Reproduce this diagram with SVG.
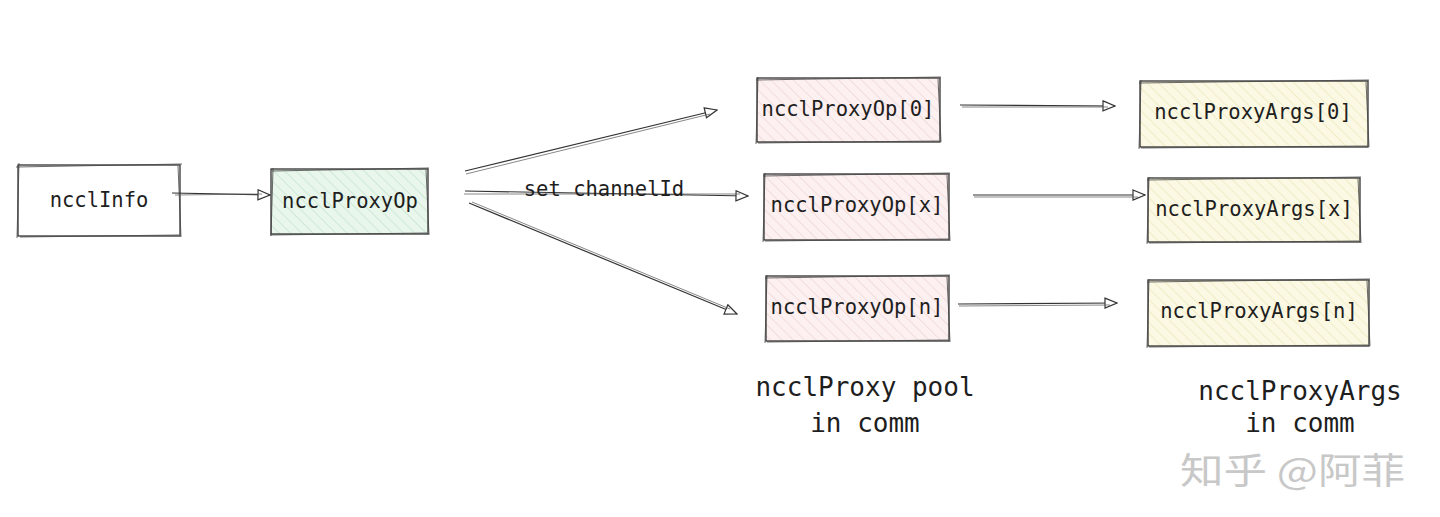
<svg xmlns="http://www.w3.org/2000/svg" width="1440" height="517" viewBox="0 0 1440 517">
<style>
.box{stroke:#333;stroke-width:1.3;}
.sk{fill:none;stroke:#444;stroke-width:0.8;}
.t{font-family:"DejaVu Sans Mono","Liberation Mono",monospace;font-size:20.5px;fill:#1e1e1e;text-anchor:middle;dominant-baseline:central;}
.lbl{font-family:"DejaVu Sans Mono","Liberation Mono",monospace;font-size:26px;fill:#1e1e1e;text-anchor:middle;}
.c{fill:none;stroke:#333;stroke-width:1.2;marker-end:url(#ah);}
.c2{fill:none;stroke:#555;stroke-width:0.7;}
.wm{font-family:"Noto Sans CJK SC",sans-serif;font-size:36px;fill:#c8c8c8;}
</style>
<defs>
<marker id="ah" viewBox="0 0 14 12" refX="13" refY="6" markerWidth="14" markerHeight="12" markerUnits="userSpaceOnUse" orient="auto">
<path d="M1,1 L13,6 L1,11 Z" fill="#fff" stroke="#333" stroke-width="1.2"/>
</marker>
<pattern id="hg" width="8" height="8" patternUnits="userSpaceOnUse" patternTransform="rotate(-45)">
<rect width="8" height="8" fill="#e8f6ec"/><line x1="0" y1="0" x2="0" y2="8" stroke="#cfe9d6" stroke-width="2"/>
</pattern>
<pattern id="hp" width="8" height="8" patternUnits="userSpaceOnUse" patternTransform="rotate(-45)">
<rect width="8" height="8" fill="#fcf0f0"/><line x1="0" y1="0" x2="0" y2="8" stroke="#f3dcdc" stroke-width="2"/>
</pattern>
<pattern id="hy" width="8" height="8" patternUnits="userSpaceOnUse" patternTransform="rotate(-45)">
<rect width="8" height="8" fill="#fbf8e3"/><line x1="0" y1="0" x2="0" y2="8" stroke="#f1ecc8" stroke-width="2"/>
</pattern>
</defs>
<rect width="1440" height="517" fill="#fff"/>

<g id="ncclInfo">
<rect class="box" x="18" y="165" width="162" height="71" fill="#fff"/>
<path class="sk" d="M16,167 L182,164 M20,237 L179,235 M19,163 L17,238 M178,166 L181,237"/>
<text class="t" x="99" y="200">ncclInfo</text>
</g>

<g id="ncclProxyOp">
<rect class="box" x="271" y="169" width="157" height="65" fill="url(#hg)"/>
<path class="sk" d="M272,171 L429,168 M270,235 L427,233 M273,168 L271,236 M426,170 L429,235"/>
<text class="t" x="350" y="201">ncclProxyOp</text>
</g>

<g id="ncclProxyOp0">
<rect class="box" x="757" y="78" width="183" height="64" fill="url(#hp)"/>
<path class="sk" d="M756,80 L941,77 M758,143 L939,141 M758,77 L756,144 M938,79 L941,142"/>
<text class="t" x="848" y="109">ncclProxyOp[0]</text>
</g>

<g id="ncclProxyOpX">
<rect class="box" x="764" y="174" width="185" height="66" fill="url(#hp)"/>
<path class="sk" d="M763,176 L950,173 M765,241 L948,239 M765,173 L763,242 M947,175 L950,241"/>
<text class="t" x="857" y="205">ncclProxyOp[x]</text>
</g>

<g id="ncclProxyOpN">
<rect class="box" x="766" y="276" width="183" height="65" fill="url(#hp)"/>
<path class="sk" d="M765,278 L950,275 M767,342 L948,340 M767,275 L765,343 M947,277 L950,342"/>
<text class="t" x="857" y="307">ncclProxyOp[n]</text>
</g>

<g id="ncclProxyArgs0">
<rect class="box" x="1140" y="81" width="228" height="66" fill="url(#hy)"/>
<path class="sk" d="M1139,83 L1369,80 M1141,148 L1367,146 M1141,80 L1139,149 M1366,82 L1369,147"/>
<text class="t" x="1253" y="112">ncclProxyArgs[0]</text>
</g>

<g id="ncclProxyArgsX">
<rect class="box" x="1148" y="178" width="212" height="64" fill="url(#hy)"/>
<path class="sk" d="M1147,180 L1361,177 M1149,243 L1359,241 M1149,177 L1147,244 M1358,179 L1361,243"/>
<text class="t" x="1254" y="209">ncclProxyArgs[x]</text>
</g>

<g id="ncclProxyArgsN">
<rect class="box" x="1148" y="280" width="221" height="66" fill="url(#hy)"/>
<path class="sk" d="M1147,282 L1370,279 M1149,347 L1368,345 M1149,279 L1147,348 M1367,281 L1370,346"/>
<text class="t" x="1259" y="311">ncclProxyArgs[n]</text>
</g>

<g id="connectors">
<path class="c" d="M172,193 L270,195"/>
<path class="c2" d="M175,195 L262,194"/>
<path class="c" d="M465,171 L717,110"/>
<path class="c2" d="M466,174 L710,114"/>
<path class="c" d="M465,191 L748,196"/>
<path class="c2" d="M464,194 L740,194"/>
<path class="c" d="M469,203 L737,314"/>
<path class="c2" d="M472,202 L730,309"/>
<path class="c" d="M960,105 L1115,106"/>
<path class="c2" d="M962,107 L1108,107"/>
<path class="c" d="M973,195 L1145,195"/>
<path class="c2" d="M974,197 L1138,197"/>
<path class="c" d="M958,304 L1117,303"/>
<path class="c2" d="M959,306 L1110,305"/>
<text class="t" x="604" y="189">set channelId</text>
</g>

<g id="labels">
<text class="lbl" x="865" y="396">ncclProxy pool</text>
<text class="lbl" x="865" y="432">in comm</text>
<text class="lbl" x="1300" y="400">ncclProxyArgs</text>
<text class="lbl" x="1300" y="432">in comm</text>
<text class="wm" x="1180" y="484" textLength="225" lengthAdjust="spacingAndGlyphs">知乎 @阿菲</text>
</g>
</svg>
